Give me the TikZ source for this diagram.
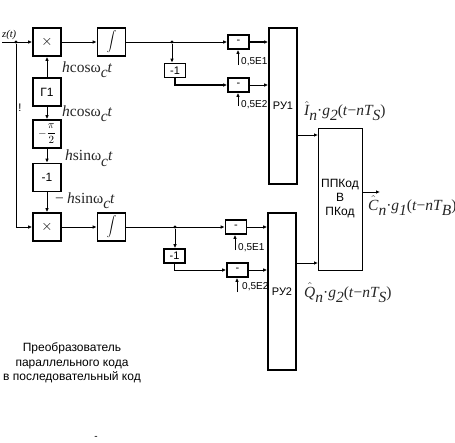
\documentclass[tikz,border=0pt]{standalone}
\usepackage{fontspec}
\setmainfont{Liberation Sans}
\newfontfamily\serifit[ItalicFont={Liberation Serif Italic}]{Liberation Serif}
\usetikzlibrary{arrows.meta,calc}
\newcommand{\hatv}[1]{\ensuremath{\hat{\hbox{\itshape #1}}}}
\newcommand{\sbd}[1]{\raisebox{-5.5pt}{#1}}
\newcommand{\om}{\textup{ω}}
\tikzset{
  blk/.style={draw=black,line width=1.7pt,inner sep=0pt,font=\fontsize{11}{13}\selectfont,align=center},
  blkb/.style={blk,minimum width=28pt,minimum height=28pt},
  blks/.style={blk,minimum width=21pt,minimum height=14pt},
  wire/.style={draw=black,line width=0.9pt},
  arr/.style={wire,-{Latex[length=4pt,width=3.6pt]}},
  dot/.style={circle,fill=black,inner sep=0pt,minimum size=3.2pt},
  sm/.style={inner sep=0pt,font=\fontsize{10}{12}\selectfont,anchor=base west},
  mth/.style={inner sep=0pt,anchor=base west,text=black!85,font=\serifit\itshape\fontsize{15.5}{17}\selectfont},
  captext/.style={inner sep=0pt,font=\fontsize{12}{14.5}\selectfont,align=center}
}
\begin{document}
\begin{tikzpicture}[x=1pt,y=-1pt]
\useasboundingbox (0,0) rectangle (455,442);
% left column
\node[blkb,font=\Large] (mul1) at (47,42) {$\times$};
\node[blkb] (int1) at (111.5,42) {$\displaystyle\int$};
\node[blkb,font=\fontsize{12}{14}\selectfont] (gen) at (47,92) {Г1};
\node[blkb] (phase) at (47,134) {\(\displaystyle-\frac{\pi}{2}\)};
\node[blkb,font=\fontsize{12}{14}\selectfont] (neg) at (47,177.5) {-1};
\node[blkb,font=\Large] (mul2) at (47,227) {$\times$};
\node[blkb] (int2) at (111.5,227) {$\displaystyle\int$};
% upper branch
\node[blks] (sub1) at (238.5,42) {-};
\node[blks] (inv1) at (175,70.5) {-1};
\node[blks] (sub2) at (238.5,85) {-};
\node[blk,minimum width=28pt,minimum height=156pt] (ru1) at (283,106) {РУ1};
% lower branch
\node[blks] (sub3) at (236,227) {-};
\node[blks] (inv2) at (174.5,256) {-1};
\node[blks] (sub4) at (237.5,270) {-};
\node[blk,minimum width=28pt,minimum height=157pt] (ru2) at (282,291.5) {РУ2};
% converter
\node[blk,line width=1pt,minimum width=44pt,minimum height=142pt,font=\fontsize{12}{14}\selectfont] (conv) at (340,199) {ППКод\\В\\ПКод};
% named points
\node[dot] (j0) at (16,42) {};
\node[dot] (j1) at (172,42) {};
\node[dot] (j2) at (175,227) {};
\coordinate (zin) at (2,42);
\coordinate (bend) at (16,227);
\coordinate (c1in) at (318,135);
\coordinate (c2in) at (318,263);
\coordinate (cout) at (380,192);
\coordinate (e1) at (238,65);
\coordinate (e2) at (238,106);
\coordinate (e3) at (235,250);
\coordinate (e4) at (237,292);
% connectors
\draw[arr] (zin) -- (mul1.west);
\draw[wire] (j0) -- (bend);
\draw[arr] (bend) -- (mul2.west);
\draw[arr] (mul1.east) -- (int1.west);
\draw[arr] (mul2.east) -- (int2.west);
\draw[arr] (gen.north) -- (mul1.south);
\draw[arr] (gen.south) -- (phase.north);
\draw[arr] (phase.south) -- (neg.north);
\draw[arr] (neg.south) -- (mul2.north);
\draw[arr] (int1.east) -- (sub1.west);
\draw[arr,line width=1.5pt] (sub1.east) -- (sub1.east -| ru1.west);
\draw[arr] (j1) -- (j1 |- inv1.north);
\draw[arr,line width=1.2pt] (inv1.south) |- (sub2.west);
\draw[arr] (sub2.east) -- (sub2.east -| ru1.west);
\draw[arr] (int2.east) -- (sub3.west);
\draw[arr] (sub3.east) -- (sub3.east -| ru2.west);
\draw[arr] (j2) -- (j2 |- inv2.north);
\draw[arr] (inv2.south) |- (sub4.west);
\draw[arr] (sub4.east) -- (sub4.east -| ru2.west);
\draw[arr] (e1) -- (e1 |- sub1.south);
\draw[arr] (e2) -- (e2 |- sub2.south);
\draw[arr] (e3) -- (e3 |- sub3.south);
\draw[arr] (e4) -- (e4 |- sub4.south);
\draw[arr] (ru1.east |- c1in) -- (c1in);
\draw[arr] (ru2.east |- c2in) -- (c2in);
\draw[arr] (conv.east |- cout) -- (cout);
% labels
\node[inner sep=0pt,anchor=base west,font=\serifit\itshape\fontsize{10.5}{12}\selectfont] (zlab) at (2,37) {z(t)};
\node[inner sep=0pt,font=\fontsize{11}{12}\selectfont] (excl) at (20,108) {!};
\node[mth] (l1) at (62,72) {h\textup{cos}\om\sbd{c}t};
\node[mth] (l2) at (62,116) {h\textup{cos}\om\sbd{c}t};
\node[mth] (l3) at (65,160.5) {h\textup{sin}\om\sbd{c}t};
\node[mth] (l4) at (54,203) {−\,h\textup{sin}\om\sbd{c}t};
\node[sm] (t1) at (241,64) {0,5E1};
\node[sm] (t2) at (241,107) {0,5E2};
\node[sm] (t3) at (238,250) {0,5E1};
\node[sm] (t4) at (242,289) {0,5E2};
\node[mth] (m1) at (304,115) {\hatv{I}\sbd{n}\textup{·}g\sbd{2}\textup{(}t\textup{−}nT\sbd{S}\textup{)}};
\node[mth] (m2) at (368,210) {\hatv{C}\sbd{n}\textup{·}g\sbd{1}\textup{(}t\textup{−}nT\sbd{B}\textup{)}};
\node[mth] (m3) at (304,297) {\hatv{Q}\sbd{n}\textup{·}g\sbd{2}\textup{(}t\textup{−}nT\sbd{S}\textup{)}};
\node[captext] (title) at (72,363) {Преобразователь\\параллельного кода\\в последовательный код};
\node[inner sep=0pt,font=\fontsize{10}{11}\selectfont] (dash) at (96,438) {-};
\end{tikzpicture}
\end{document}
